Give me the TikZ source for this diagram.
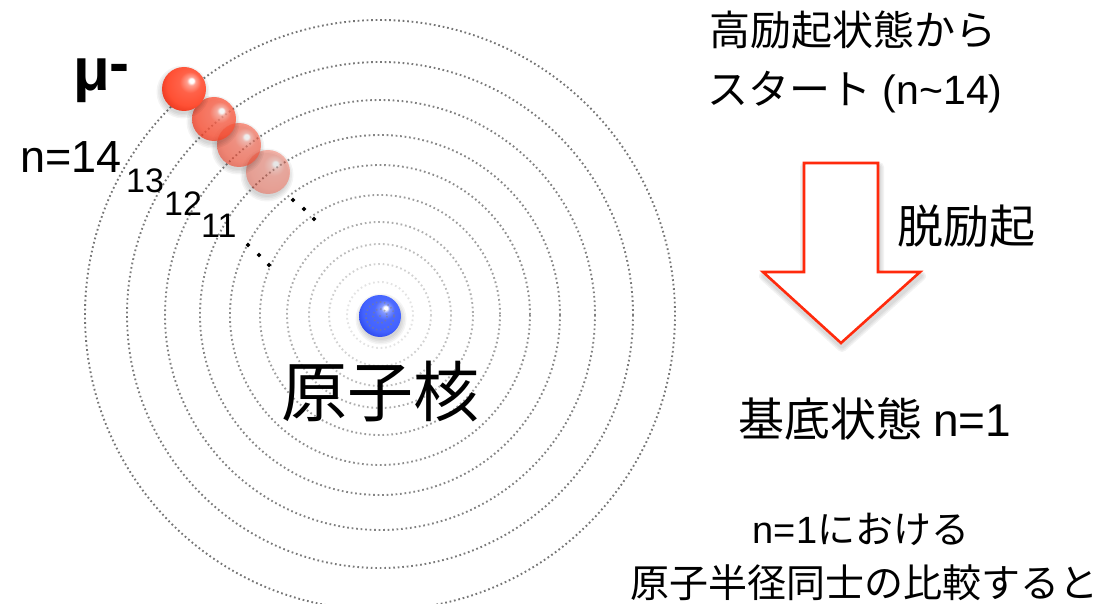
\documentclass[tikz,border=0pt]{standalone}
\usepackage{fontspec}
\setmainfont{Liberation Sans}
\newfontfamily\jp{Noto Sans CJK JP}
\usetikzlibrary{shapes.geometric}

\definecolor{mured}{RGB}{255,80,52}
\definecolor{mudark}{RGB}{228,48,24}
\definecolor{nublue}{RGB}{66,98,255}
\definecolor{nudark}{RGB}{34,58,226}
\definecolor{arrowred}{RGB}{255,42,12}

% spheres lit from the upper right
\pgfdeclareradialshading{muball}{\pgfpoint{9bp}{10bp}}{%
  color(0bp)=(white); color(2.5bp)=(white); color(5bp)=(mured!55!white);
  color(12bp)=(mured!90!white); color(24bp)=(mured); color(34bp)=(mudark);
  color(50bp)=(mudark)}
\pgfdeclareradialshading{nuball}{\pgfpoint{7bp}{10bp}}{%
  color(0bp)=(white); color(2bp)=(white); color(5bp)=(nublue!65!white);
  color(12bp)=(nublue!95!white); color(24bp)=(nublue); color(34bp)=(nudark);
  color(50bp)=(nudark)}

\newcommand\softshadow[3]{%
  \foreach \d in {0,1.5,3,4.5}{%
    \fill[black,opacity=0.045] (#1,#2) circle[radius={#3+\d}];}}

\tikzset{
  orbit/.style={line width=1.9pt, dash pattern=on 1.7pt off 2.8pt},
  muon/.style={circle, inner sep=0pt, minimum size=44pt, shade, shading=muball},
  nucleus/.style={circle, inner sep=0pt, minimum size=42pt, shade, shading=nuball},
  dotmark/.style={diamond, fill=black, inner sep=0pt, minimum size=5pt},
  jlabel/.style={inner sep=0pt, font=\jp},
  level/.style={inner sep=0pt, anchor=base west, font=\fontsize{34}{34}\selectfont},
  decay/.style={draw=arrowred, line width=2.6pt, fill=white, line join=miter}
}

\def\arrowpath{(804,163) -- (878,163) -- (878,272) -- (920,272) -- (841,343) -- (763,272) -- (804,272) -- cycle}

\begin{document}
\begin{tikzpicture}[x=1pt,y=-1pt]
\useasboundingbox (0,0) rectangle (1103,604);

% orbits, fading towards the centre
\coordinate (c) at (380,315);
\foreach \r/\g in {295/54,253/52,215/50,180/48,150/45,120/39,93/32,71/26,51/18,33/11}
  \draw[orbit, draw=black!\g] (c) circle[radius=\r];

% nucleus
\softshadow{381}{319}{21}
\node[nucleus] (nuc) at (380,316) {};
\draw[gray, opacity=0.55, line width=1.6pt, dash pattern=on 1.5pt off 2.6pt] (nuc.center) circle[radius=7];
\draw[gray, opacity=0.55, line width=1.6pt, dash pattern=on 1.5pt off 2.6pt] (nuc.center) circle[radius=14];
\fill[gray, opacity=0.55] (nuc.center) circle[radius=1.2];

% muon cascading inwards
\begin{scope}[opacity=0.4]
  \softshadow{267}{175}{22}
  \node[muon] (m4) at (268,172) {};
\end{scope}
\begin{scope}[opacity=0.6]
  \softshadow{238}{148}{22}
  \node[muon] (m3) at (239,145) {};
\end{scope}
\begin{scope}[opacity=0.78]
  \softshadow{213}{122}{22}
  \node[muon] (m2) at (214,119) {};
\end{scope}
\softshadow{183}{92}{22}
\node[muon] (m1) at (184,89) {};

% ellipsis marks
\node[dotmark] (d1) at (293,200) {};
\node[dotmark] (d2) at (304,209) {};
\node[dotmark] (d3) at (314,219) {};
\node[dotmark] (d4) at (248,245) {};
\node[dotmark] (d5) at (259,255) {};
\node[dotmark] (d6) at (269,265) {};

% labels on the atom
\node[inner sep=0pt, anchor=base west, font=\bfseries\fontsize{60}{60}\selectfont] (mu) at (73,91) {μ\raisebox{7pt}{-}};
\node[inner sep=0pt, anchor=base west, font=\fontsize{45}{45}\selectfont] (n14) at (20,173) {n=14};
\node[level] (n13) at (126,193) {13};
\node[level] (n12) at (164,216) {12};
\node[level] (n11) at (201,238) {11};
\node[jlabel, font=\jp\fontsize{66}{66}\selectfont] (nuclabel) at (380,392) {原子核};

% right-hand column
\node[jlabel, font=\jp\fontsize{41}{41}\selectfont] (start1) at (853,30) {高励起状態から};
\node[jlabel, font=\jp\fontsize{41}{41}\selectfont] (start2) at (855,92) {スタート{\rmfamily\ (n\textasciitilde14)}};

\foreach \w in {10,7,4}
  \draw[black, opacity=0.05, line width=\w pt, line join=round, shift={(1,4)}] \arrowpath;
\draw[decay] \arrowpath;
\coordinate (arrowtop) at (841,163);
\coordinate (arrowtip) at (841,343);

\node[jlabel, font=\jp\fontsize{46}{46}\selectfont] (deexc) at (966,226) {脱励起};
\node[jlabel, font=\jp\fontsize{46}{46}\selectfont] (ground) at (875,419) {基底状態 {\rmfamily n=1}};
\node[jlabel, font=\jp\fontsize{38}{38}\selectfont] (cmp1) at (861,529) {{\rmfamily n=1}における};
\node[jlabel, font=\jp\fontsize{39}{39}\selectfont] (cmp2) at (864,583) {原子半径同士の比較すると};
\end{tikzpicture}
\end{document}
